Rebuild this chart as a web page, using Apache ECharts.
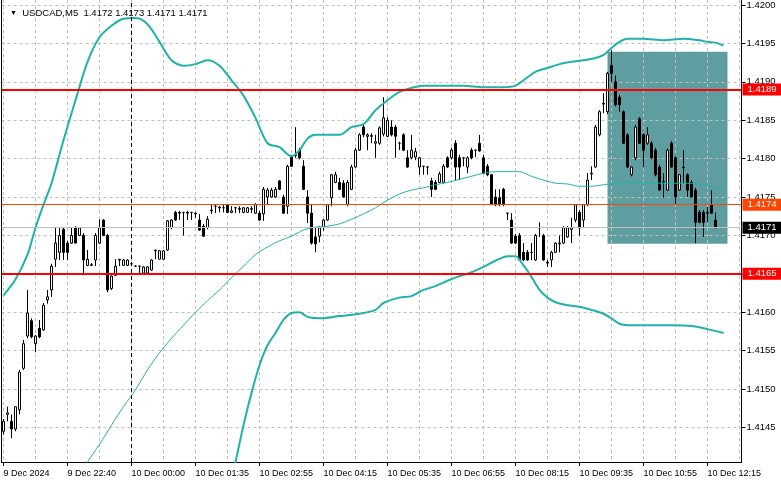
<!DOCTYPE html>
<html><head><meta charset="utf-8">
<script src="https://cdn.jsdelivr.net/npm/echarts/dist/echarts.min.js"></script>
<style>html,body{margin:0;padding:0;background:#fff}#c{width:781px;height:489px}</style>
</head><body><div id="c"></div>
<script>
const symbolName = 'USDCAD,M5';
const tickLabels = ['9 Dec 2024','9 Dec 22:40','10 Dec 00:00','10 Dec 01:35','10 Dec 02:55','10 Dec 04:15','10 Dec 05:35','10 Dec 06:55','10 Dec 08:15','10 Dec 09:35','10 Dec 10:55','10 Dec 12:15'];
const slotCount = 185;           // 179 bars + right shift of the chart
const openP = [
1.41445,1.41467,1.41458,1.41448,1.41473,1.41527,1.41569,1.41589,1.41559,1.41579,
1.41577,1.41616,1.41629,1.41669,1.41678,1.41708,1.41690,1.41690,1.41710,1.41700,
1.41700,1.41661,1.41661,1.41668,1.41690,1.41720,1.41700,1.41631,1.41648,1.41668,
1.41661,1.41661,1.41663,1.41660,1.41660,1.41651,1.41651,1.41655,1.41680,1.41669,
1.41669,1.41681,1.41710,1.41730,1.41729,1.41730,1.41729,1.41730,1.41728,1.41720,
1.41712,1.41710,1.41732,1.41738,1.41736,1.41736,1.41740,1.41730,1.41736,1.41734,
1.41730,1.41730,1.41734,1.41729,1.41729,1.41728,1.41750,1.41750,1.41750,1.41771,
1.41750,1.41738,1.41802,1.41805,1.41811,1.41790,1.41750,1.41729,1.41698,1.41699,
1.41710,1.41720,1.41749,1.41769,1.41769,1.41768,1.41740,1.41760,1.41789,1.41811,
1.41841,1.41829,1.41829,1.41820,1.41820,1.41832,1.41829,1.41841,1.41841,1.41820,
1.41831,1.41801,1.41801,1.41802,1.41789,1.41790,1.41789,1.41771,1.41769,1.41769,
1.41769,1.41801,1.41801,1.41820,1.41801,1.41801,1.41789,1.41811,1.41811,1.41820,
1.41801,1.41790,1.41779,1.41750,1.41749,1.41760,1.41729,1.41720,1.41699,1.41700,
1.41678,1.41678,1.41678,1.41668,1.41710,1.41700,1.41665,1.41668,1.41678,1.41689,
1.41690,1.41698,1.41708,1.41720,1.41730,1.41720,1.41740,1.41780,1.41789,1.41831,
1.41871,1.41861,1.41921,1.41900,1.41880,1.41861,1.41831,1.41779,1.41801,1.41852,
1.41831,1.41820,1.41820,1.41811,1.41789,1.41769,1.41759,1.41820,1.41801,1.41759,
1.41789,1.41779,1.41769,1.41759,1.41730,1.41730,1.41730,1.41740,1.41720];
const highP = [
1.41461,1.41477,1.41467,1.41477,1.41525,1.41564,1.41629,1.41592,1.41570,1.41590,
1.41612,1.41629,1.41663,1.41710,1.41710,1.41710,1.41693,1.41710,1.41712,1.41710,
1.41703,1.41681,1.41664,1.41703,1.41721,1.41721,1.41702,1.41648,1.41669,1.41669,
1.41669,1.41669,1.41665,1.41661,1.41660,1.41660,1.41660,1.41669,1.41681,1.41681,
1.41681,1.41720,1.41721,1.41732,1.41732,1.41730,1.41732,1.41730,1.41730,1.41728,
1.41715,1.41725,1.41740,1.41740,1.41738,1.41741,1.41741,1.41738,1.41737,1.41738,
1.41737,1.41737,1.41738,1.41742,1.41732,1.41763,1.41762,1.41762,1.41763,1.41772,
1.41753,1.41792,1.41805,1.41841,1.41814,1.41798,1.41759,1.41740,1.41710,1.41712,
1.41721,1.41741,1.41780,1.41783,1.41775,1.41772,1.41772,1.41792,1.41814,1.41833,
1.41844,1.41833,1.41833,1.41831,1.41842,1.41880,1.41854,1.41850,1.41844,1.41822,
1.41833,1.41811,1.41831,1.41814,1.41802,1.41790,1.41790,1.41775,1.41772,1.41783,
1.41793,1.41803,1.41814,1.41824,1.41805,1.41801,1.41803,1.41814,1.41811,1.41831,
1.41805,1.41793,1.41780,1.41760,1.41760,1.41762,1.41729,1.41729,1.41702,1.41703,
1.41690,1.41681,1.41690,1.41702,1.41717,1.41702,1.41668,1.41680,1.41691,1.41700,
1.41712,1.41712,1.41723,1.41741,1.41733,1.41741,1.41781,1.41790,1.41844,1.41863,
1.41885,1.41913,1.41941,1.41908,1.41883,1.41863,1.41833,1.41790,1.41844,1.41854,
1.41833,1.41841,1.41823,1.41814,1.41792,1.41781,1.41813,1.41823,1.41803,1.41780,
1.41811,1.41781,1.41772,1.41762,1.41733,1.41733,1.41737,1.41759,1.41730];
const lowP = [
1.41441,1.41458,1.41436,1.41445,1.41467,1.41525,1.41566,1.41566,1.41548,1.41566,
1.41576,1.41611,1.41620,1.41659,1.41668,1.41668,1.41668,1.41689,1.41690,1.41699,
1.41648,1.41660,1.41660,1.41660,1.41689,1.41699,1.41626,1.41629,1.41647,1.41660,
1.41661,1.41660,1.41661,1.41659,1.41651,1.41651,1.41650,1.41654,1.41669,1.41669,
1.41669,1.41680,1.41708,1.41719,1.41720,1.41700,1.41720,1.41720,1.41723,1.41706,
1.41698,1.41708,1.41728,1.41729,1.41730,1.41730,1.41729,1.41729,1.41729,1.41729,
1.41729,1.41730,1.41729,1.41728,1.41719,1.41719,1.41740,1.41749,1.41749,1.41759,
1.41728,1.41728,1.41789,1.41801,1.41799,1.41759,1.41716,1.41688,1.41678,1.41691,
1.41706,1.41719,1.41738,1.41768,1.41759,1.41749,1.41738,1.41759,1.41788,1.41810,
1.41828,1.41811,1.41820,1.41801,1.41818,1.41829,1.41828,1.41829,1.41801,1.41811,
1.41810,1.41788,1.41799,1.41798,1.41779,1.41779,1.41779,1.41750,1.41759,1.41768,
1.41768,1.41788,1.41799,1.41772,1.41772,1.41790,1.41781,1.41799,1.41802,1.41809,
1.41780,1.41777,1.41740,1.41738,1.41738,1.41738,1.41720,1.41689,1.41689,1.41667,
1.41667,1.41667,1.41668,1.41667,1.41698,1.41667,1.41659,1.41659,1.41677,1.41678,
1.41689,1.41697,1.41690,1.41717,1.41700,1.41710,1.41738,1.41772,1.41788,1.41829,
1.41859,1.41858,1.41900,1.41868,1.41861,1.41819,1.41788,1.41777,1.41798,1.41819,
1.41789,1.41818,1.41799,1.41777,1.41758,1.41749,1.41758,1.41788,1.41740,1.41758,
1.41768,1.41750,1.41749,1.41690,1.41716,1.41698,1.41717,1.41728,1.41710];
const closeP = [
1.41458,1.41469,1.41448,1.41477,1.41522,1.41559,1.41599,1.41568,1.41569,1.41568,
1.41609,1.41620,1.41660,1.41690,1.41700,1.41678,1.41678,1.41700,1.41690,1.41710,
1.41668,1.41669,1.41662,1.41700,1.41710,1.41700,1.41629,1.41647,1.41660,1.41669,
1.41668,1.41668,1.41663,1.41660,1.41660,1.41659,1.41659,1.41668,1.41681,1.41680,
1.41680,1.41719,1.41720,1.41720,1.41730,1.41730,1.41730,1.41730,1.41729,1.41707,
1.41699,1.41721,1.41733,1.41738,1.41737,1.41736,1.41730,1.41732,1.41736,1.41735,
1.41736,1.41736,1.41735,1.41740,1.41720,1.41760,1.41759,1.41759,1.41760,1.41760,
1.41729,1.41790,1.41790,1.41804,1.41801,1.41760,1.41729,1.41690,1.41689,1.41710,
1.41720,1.41740,1.41779,1.41779,1.41760,1.41750,1.41769,1.41789,1.41811,1.41831,
1.41831,1.41831,1.41830,1.41822,1.41840,1.41853,1.41850,1.41831,1.41829,1.41820,
1.41811,1.41789,1.41811,1.41809,1.41801,1.41790,1.41789,1.41760,1.41760,1.41780,
1.41790,1.41789,1.41811,1.41789,1.41789,1.41801,1.41801,1.41801,1.41811,1.41810,
1.41781,1.41779,1.41740,1.41740,1.41740,1.41740,1.41729,1.41690,1.41690,1.41668,
1.41668,1.41668,1.41678,1.41700,1.41710,1.41668,1.41664,1.41678,1.41690,1.41690,
1.41710,1.41710,1.41710,1.41740,1.41710,1.41740,1.41772,1.41781,1.41841,1.41861,
1.41872,1.41911,1.41911,1.41870,1.41870,1.41820,1.41789,1.41789,1.41841,1.41820,
1.41811,1.41831,1.41801,1.41779,1.41759,1.41770,1.41811,1.41789,1.41750,1.41779,
1.41788,1.41759,1.41750,1.41717,1.41717,1.41717,1.41729,1.41729,1.41710];
// Bollinger bands, read at sampled bars: [bar index, price]
const upperBand = [[0,1.41622],[3,1.41643],[6,1.41675],[8,1.41710],[10,1.41740],[12,1.41768],[15,1.41824],[18,1.41876],[21,1.41926],[24,1.41958],[27,1.41973],[30,1.41982],[33,1.41983],[36,1.41975],[39,1.41952],[42,1.41928],[45,1.41921],[48,1.41923],[51,1.41928],[54,1.41921],[57,1.41902],[60,1.41882],[63,1.41853],[66,1.41820],[69,1.41815],[72,1.41803],[74,1.41811],[76,1.41826],[78,1.41831],[81,1.41831],[84,1.41831],[87,1.41841],[90,1.41845],[93,1.41863],[96,1.41876],[99,1.41887],[102,1.41892],[105,1.41895],[110,1.41895],[115,1.41895],[120,1.41893],[125,1.41893],[128,1.41895],[130,1.41902],[133,1.41913],[136,1.41918],[139,1.41923],[142,1.41926],[145,1.41928],[148,1.41931],[150,1.41935],[152,1.41944],[154,1.41952],[156,1.41956],[160,1.41956],[165,1.41954],[170,1.41956],[174,1.41954],[176,1.41952],[178,1.41951],[180,1.41947]];
const middleBand = [[18,1.41376],[21,1.41405],[24,1.41428],[27,1.41453],[30,1.41477],[33,1.41499],[36,1.41525],[39,1.41547],[42,1.41566],[45,1.41583],[48,1.41600],[51,1.41615],[54,1.41629],[57,1.41645],[60,1.41660],[63,1.41675],[66,1.41685],[69,1.41693],[72,1.41699],[75,1.41707],[78,1.41711],[81,1.41712],[84,1.41715],[87,1.41721],[90,1.41728],[93,1.41736],[96,1.41746],[99,1.41754],[102,1.41759],[105,1.41762],[108,1.41766],[111,1.41769],[114,1.41773],[117,1.41777],[120,1.41781],[123,1.41783],[126,1.41783],[129,1.41783],[132,1.41777],[135,1.41772],[138,1.41768],[141,1.41767],[144,1.41764],[147,1.41764],[150,1.41766],[153,1.41768],[156,1.41769],[160,1.41769],[165,1.41768],[170,1.41768],[174,1.41767],[177,1.41763],[180,1.41759]];
const lowerBand = [[57,1.41384],[58,1.41405],[60,1.41453],[62,1.41495],[64,1.41531],[66,1.41557],[68,1.41573],[70,1.41590],[72,1.41599],[74,1.41600],[76,1.41594],[79,1.41592],[84,1.41595],[89,1.41598],[93,1.41603],[95,1.41612],[99,1.41619],[102,1.41621],[105,1.41629],[108,1.41634],[111,1.41641],[114,1.41647],[117,1.41652],[120,1.41659],[123,1.41667],[126,1.41673],[128,1.41673],[130,1.41661],[132,1.41646],[134,1.41629],[136,1.41619],[138,1.41613],[141,1.41609],[144,1.41607],[147,1.41603],[150,1.41598],[152,1.41592],[154,1.41585],[157,1.41583],[162,1.41583],[167,1.41583],[172,1.41582],[176,1.41578],[180,1.41573]];
const resistanceLevel = 1.4189;
const supportLevel = 1.4165;
const markedLevel = 1.4174;
const bidLevel = 1.4171;
const separatorBar = 32;
const boxBars = [151, 181];
const boxPrices = [1.41939, 1.41689];
const yMin = 1.41405, yMax = 1.420065;

const FONT = 'Liberation Sans';
const categories = Array.from({length: slotCount}, (_, i) => String(i));
const candles = openP.map((o, i) => [o, closeP[i], lowP[i], highP[i]]);
const last = openP.length - 1;
const titleText = '{t|▼}  ' + symbolName + '  ' + [openP[last], highP[last], lowP[last], closeP[last]].map(v => v.toFixed(4)).join(' ');

function tag(value, bg, lineColor, lineWidth) {
  return {
    yAxis: value,
    lineStyle: {color: lineColor, width: lineWidth, type: 'solid'},
    label: {show: true, position: 'end', distance: 1, formatter: value.toFixed(4),
      backgroundColor: bg, color: '#fff', fontFamily: FONT, fontSize: 9.5,
      padding: [1, 9, 0, 5], lineHeight: 11}
  };
}

const chart = echarts.init(document.getElementById('c'), null, {renderer: 'canvas'});
chart.setOption({
  animation: false,
  backgroundColor: '#fff',
  textStyle: {fontFamily: FONT},
  title: {text: titleText, left: 5, top: 3,
    textStyle: {fontFamily: FONT, fontSize: 9.5, fontWeight: 'normal', color: '#000',
      rich: {t: {fontSize: 7, color: '#000'}}}},
  grid: {left: 1.5, right: 39.5, top: 0, bottom: 27, outerBoundsMode: 'none', containLabel: false},
  xAxis: {
    type: 'category', data: categories, boundaryGap: true, z: 1,
    axisLine: {onZero: false, lineStyle: {color: '#000', width: 1}},
    axisTick: {show: true, alignWithLabel: true, length: 4, interval: (i) => i % 16 === 0, lineStyle: {color: '#000'}},
    axisLabel: {interval: (i) => i % 16 === 0, formatter: (v, i) => tickLabels[Math.round(i / 16)] || '',
      align: 'left', margin: 7, color: '#000', fontSize: 9, fontFamily: FONT, hideOverlap: false},
    splitLine: {show: true, alignWithLabel: true, interval: (i) => i % 8 === 0,
      lineStyle: {color: '#c0c0c0', type: [3, 3], width: 1}}
  },
  yAxis: [{
    type: 'value', position: 'right', min: yMin, max: yMax, splitNumber: 12, scale: true, z: 1,
    axisLine: {show: true, lineStyle: {color: '#000'}},
    axisTick: {show: true, length: 4, lineStyle: {color: '#000'}},
    axisLabel: {formatter: (v) => v.toFixed(4), showMinLabel: false, showMaxLabel: false,
      margin: 5, color: '#000', fontSize: 9.5, fontFamily: FONT},
    splitLine: {show: true, showMinLine: false, showMaxLine: false,
      lineStyle: {color: '#c0c0c0', type: [3, 3], width: 1}}
  }, {
    type: 'value', position: 'left', min: yMin, max: yMax, z: 1,
    axisLine: {show: true, onZero: false, lineStyle: {color: '#000'}},
    axisTick: {show: false}, axisLabel: {show: false}, splitLine: {show: false}
  }],
  series: [{
    type: 'line', data: [], silent: true,
    markArea: {z: 0, silent: true, itemStyle: {color: '#5F9EA0', opacity: 1, borderWidth: 0},
      data: [[{xAxis: boxBars[0], yAxis: boxPrices[0]}, {xAxis: boxBars[1], yAxis: boxPrices[1]}]]}
  }, {
    type: 'candlestick', data: candles, barWidth: 2, z: 3, silent: true,
    itemStyle: {color: '#fff', color0: '#000', borderColor: '#000', borderColor0: '#000', borderWidth: 1},
    markLine: {z: 5, silent: true, symbol: ['none', 'none'], animation: false, precision: 4,
      data: [
        tag(bidLevel, '#000', '#c0c0c0', 1),
        tag(markedLevel, '#FF4500', '#FF4500', 1),
        tag(resistanceLevel, '#FF0000', '#FF0000', 2),
        tag(supportLevel, '#FF0000', '#FF0000', 2),
        {xAxis: separatorBar, label: {show: false}, lineStyle: {color: '#000', width: 1, type: [4, 3]}}
      ]}
  }, {
    type: 'line', data: upperBand, symbol: 'none', smooth: 0.3, z: 4, silent: true,
    lineStyle: {color: '#20B2AA', width: 2}
  }, {
    type: 'line', data: middleBand, symbol: 'none', smooth: 0.3, z: 4, silent: true,
    lineStyle: {color: '#20B2AA', width: 1}
  }, {
    type: 'line', data: lowerBand, symbol: 'none', smooth: 0.3, z: 4, silent: true,
    lineStyle: {color: '#20B2AA', width: 2}
  }]
});
</script></body></html>
